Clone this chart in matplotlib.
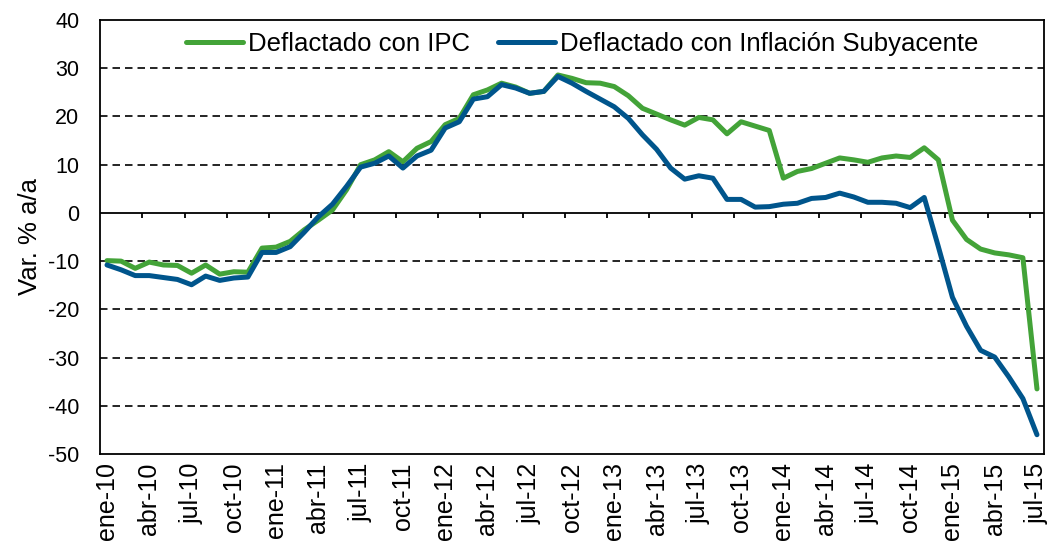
import matplotlib
matplotlib.use('Agg')
import matplotlib.pyplot as plt
import numpy as np

plt.rcParams['font.family'] = ['Liberation Sans', 'DejaVu Sans']
plt.rcParams['axes.unicode_minus'] = False

# variacion anual, mensual ene-10 .. jul-15
ipc = [-9.9, -10.0, -11.5, -10.2, -10.8, -10.9, -12.5, -10.8, -12.7, -12.2, -12.3, -7.3,
       -7.1, -5.9, -3.5, -1.5, 0.6, 4.8, 10.0, 11.0, 12.7, 10.6, 13.4, 14.8,
       18.3, 19.6, 24.5, 25.5, 26.9, 26.1, 24.8, 25.2, 28.6, 27.9, 27.0, 26.9,
       26.2, 24.3, 21.7, 20.5, 19.3, 18.2, 19.8, 19.3, 16.4, 18.9, 18.0, 17.1,
       7.2, 8.6, 9.2, 10.3, 11.4, 11.0, 10.5, 11.4, 11.8, 11.5, 13.5, 11.0,
       -1.5, -5.5, -7.5, -8.3, -8.7, -9.3, -36.5]
subyacente = [-10.8, -11.8, -13.0, -13.0, -13.4, -13.8, -14.9, -13.1, -14.0, -13.5, -13.3, -8.2,
              -8.2, -7.0, -4.0, -0.8, 1.8, 5.5, 9.5, 10.3, 11.8, 9.3, 11.8, 13.0,
              17.6, 18.9, 23.6, 24.1, 26.6, 25.9, 24.8, 25.2, 28.3, 26.9, 25.2, 23.6,
              22.0, 19.6, 16.2, 13.2, 9.3, 7.0, 7.7, 7.2, 2.8, 2.8, 1.2, 1.3,
              1.8, 2.0, 3.0, 3.2, 4.1, 3.3, 2.2, 2.2, 2.0, 1.1, 3.2, -7.0,
              -17.5, -23.5, -28.5, -29.9, -34.0, -38.5, -46.0]
tick_labels = ['ene-10', 'abr-10', 'jul-10', 'oct-10', 'ene-11', 'abr-11', 'jul-11', 'oct-11',
               'ene-12', 'abr-12', 'jul-12', 'oct-12', 'ene-13', 'abr-13', 'jul-13', 'oct-13',
               'ene-14', 'abr-14', 'jul-14', 'oct-14', 'ene-15', 'abr-15', 'jul-15']

verde = '#43A338'
azul = '#00558C'

x = np.arange(len(ipc))

fig = plt.figure(figsize=(10.5, 5.41), dpi=100)
ax = fig.add_axes([0.0952, 0.1608, 0.8991, 0.8022])

for y in [30, 20, 10, -10, -20, -30, -40]:
    ax.axhline(y, color='black', lw=1.2, ls=(0, (4.5, 3)), zorder=1)
ax.axhline(0, color='black', lw=1.3, zorder=2)
# marcas del eje en el cero, entre categorias
ax.vlines(np.arange(2.5, len(ipc), 3), -1.1, 0, color='black', lw=1.3, zorder=2)

ax.plot(x, ipc, color=verde, lw=3.6, solid_joinstyle='round', solid_capstyle='round',
        label='Deflactado con IPC', zorder=3)
ax.plot(x, subyacente, color=azul, lw=3.6, solid_joinstyle='round', solid_capstyle='round',
        label='Deflactado con Inflación Subyacente', zorder=4)

ax.set_xlim(-0.5, len(ipc) - 0.5)
ax.set_ylim(-50, 40)
ax.set_yticks(np.arange(-50, 41, 10))
ax.set_xticks(np.arange(0, len(ipc), 3))
ax.set_xticklabels(tick_labels, rotation=90, fontsize=18)
ax.tick_params(axis='x', length=0, pad=6)
ax.tick_params(axis='y', length=0, pad=15, labelsize=15.5)
for s in ax.spines.values():
    s.set_linewidth(1.3)
    s.set_color('black')

ax.set_ylabel('Var. % a/a', fontsize=18.5, labelpad=4)

ax.legend(loc='upper center', bbox_to_anchor=(0.511, 1.0), ncol=2, frameon=False,
          fontsize=18.5, handlelength=2.2, handletextpad=0.2, columnspacing=1.1,
          borderaxespad=0.05)

fig.savefig('out.png', dpi=100)
